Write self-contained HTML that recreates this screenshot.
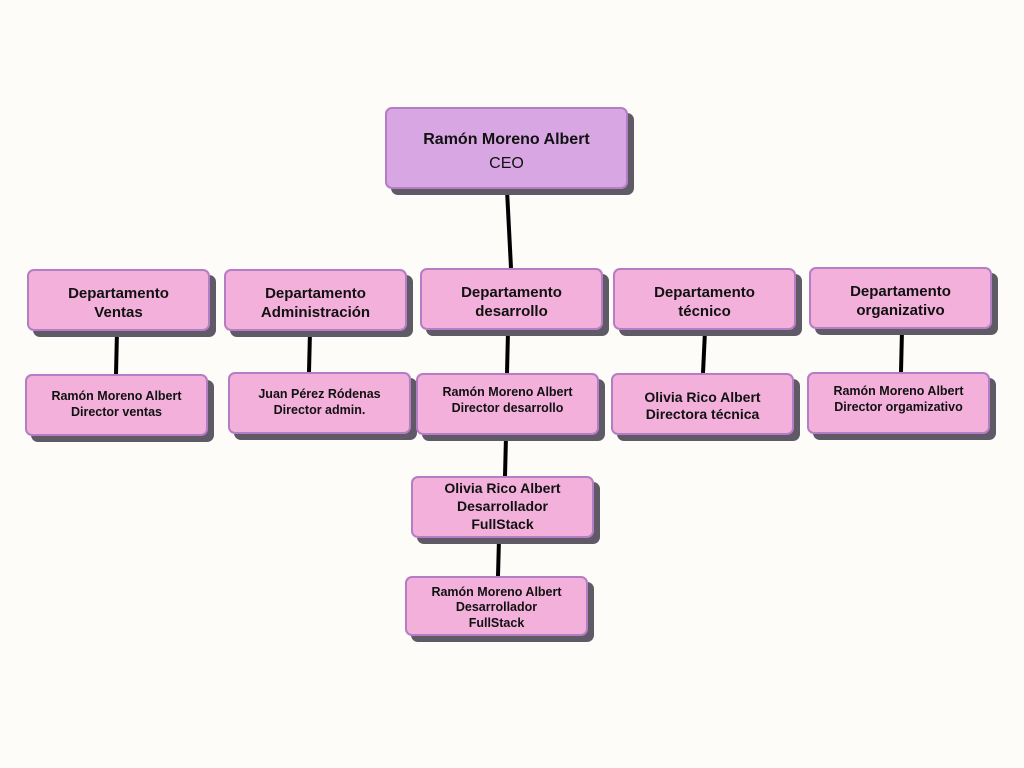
<!DOCTYPE html>
<html><head><meta charset="utf-8"><style>
body{margin:0;width:1024px;height:768px;background:#fdfcf8;position:relative;overflow:hidden;font-family:"Liberation Sans",sans-serif;}
.b{position:absolute;box-sizing:border-box;background:#f2b0da;border:2px solid #b47ec4;border-radius:7px;box-shadow:6px 6px 0 #5f5a66;display:flex;align-items:center;justify-content:center;text-align:center;font-weight:bold;color:#111;line-height:1.25;}
.d{font-size:15px;padding-top:7px;}
.s{font-size:12.5px;}
svg{position:absolute;left:0;top:0;}
</style></head><body>
<svg width="1024" height="768"><g stroke="#000" stroke-width="4">
<line x1="507" y1="190" x2="511" y2="268"/>
<line x1="117" y1="331" x2="116" y2="374"/>
<line x1="310" y1="331" x2="309" y2="372"/>
<line x1="508" y1="331" x2="507" y2="373"/>
<line x1="705" y1="331" x2="703" y2="373"/>
<line x1="902" y1="330" x2="901" y2="372"/>
<line x1="506" y1="436" x2="505" y2="476"/>
<line x1="499" y1="538" x2="498" y2="576"/>
</g></svg>
<div class="b" style="left:385px;top:107px;width:243px;height:82px;background:#d8a6e2;font-size:16px;flex-direction:column;padding-top:7px;"><div>Ramón Moreno Albert</div><div style="font-weight:normal;margin-top:4px;">CEO</div></div>
<div class="b d" style="left:27px;top:269px;width:183px;height:62px;">Departamento<br>Ventas</div>
<div class="b d" style="left:224px;top:269px;width:183px;height:62px;">Departamento<br>Administración</div>
<div class="b d" style="left:420px;top:268px;width:183px;height:62px;">Departamento<br>desarrollo</div>
<div class="b d" style="left:613px;top:268px;width:183px;height:62px;">Departamento<br>técnico</div>
<div class="b d" style="left:809px;top:267px;width:183px;height:62px;">Departamento<br>organizativo</div>
<div class="b s" style="left:25px;top:374px;width:183px;height:62px;">Ramón Moreno Albert<br>Director ventas</div>
<div class="b s" style="left:228px;top:372px;width:183px;height:62px;">Juan Pérez Ródenas<br>Director admin.</div>
<div class="b s" style="left:416px;top:373px;width:183px;height:62px;padding-bottom:6px;">Ramón Moreno Albert<br>Director desarrollo</div>
<div class="b" style="left:611px;top:373px;width:183px;height:62px;font-size:14px;padding-top:4px;">Olivia Rico Albert<br>Directora técnica</div>
<div class="b s" style="left:807px;top:372px;width:183px;height:62px;padding-bottom:6px;">Ramón Moreno Albert<br>Director orgamizativo</div>
<div class="b" style="left:411px;top:476px;width:183px;height:62px;font-size:14px;line-height:1.28;">Olivia Rico Albert<br>Desarrollador<br>FullStack</div>
<div class="b s" style="left:405px;top:576px;width:183px;height:60px;padding-top:4px;">Ramón Moreno Albert<br>Desarrollador<br>FullStack</div>
</body></html>
